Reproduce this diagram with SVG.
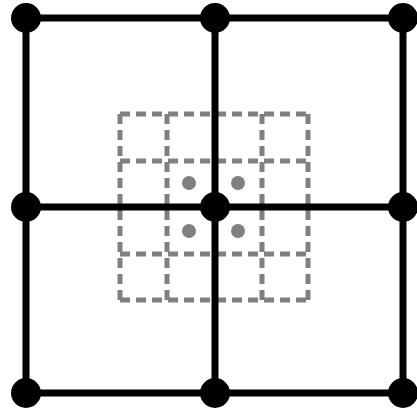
<svg xmlns="http://www.w3.org/2000/svg" width="417" height="415" viewBox="0 0 417 415">
<style>
.g{stroke:#808080;stroke-width:5;fill:none;stroke-dasharray:10 6}
.k{stroke:#000;stroke-width:7;fill:none}
.gd{fill:#808080}
.kd{fill:#000}
</style>
<rect width="417" height="415" fill="#fff"/>
<g id="fine-grid">
<path class="g" d="M120 114H308M120 161H308M120 254H308M120 300H308M120 114V300M167 114V300M262 114V300M308 114V300"/>
</g>
<g id="fine-points">
<circle class="gd" cx="189" cy="183" r="7"/>
<circle class="gd" cx="238" cy="183" r="7"/>
<circle class="gd" cx="189" cy="231" r="7"/>
<circle class="gd" cx="238" cy="231" r="7"/>
</g>
<g id="connectors">
<path class="k" d="M26 18H403M26 207H403M26 393H403M26 18V393M215 18V393M403 18V393"/>
</g>
<g id="nodes">
<circle class="kd" cx="26" cy="18" r="15"/>
<circle class="kd" cx="215" cy="18" r="15"/>
<circle class="kd" cx="403" cy="18" r="15"/>
<circle class="kd" cx="26" cy="207" r="15"/>
<circle class="kd" cx="215" cy="207" r="15"/>
<circle class="kd" cx="403" cy="207" r="15"/>
<circle class="kd" cx="26" cy="393" r="15"/>
<circle class="kd" cx="215" cy="393" r="15"/>
<circle class="kd" cx="403" cy="393" r="15"/>
</g>
</svg>
